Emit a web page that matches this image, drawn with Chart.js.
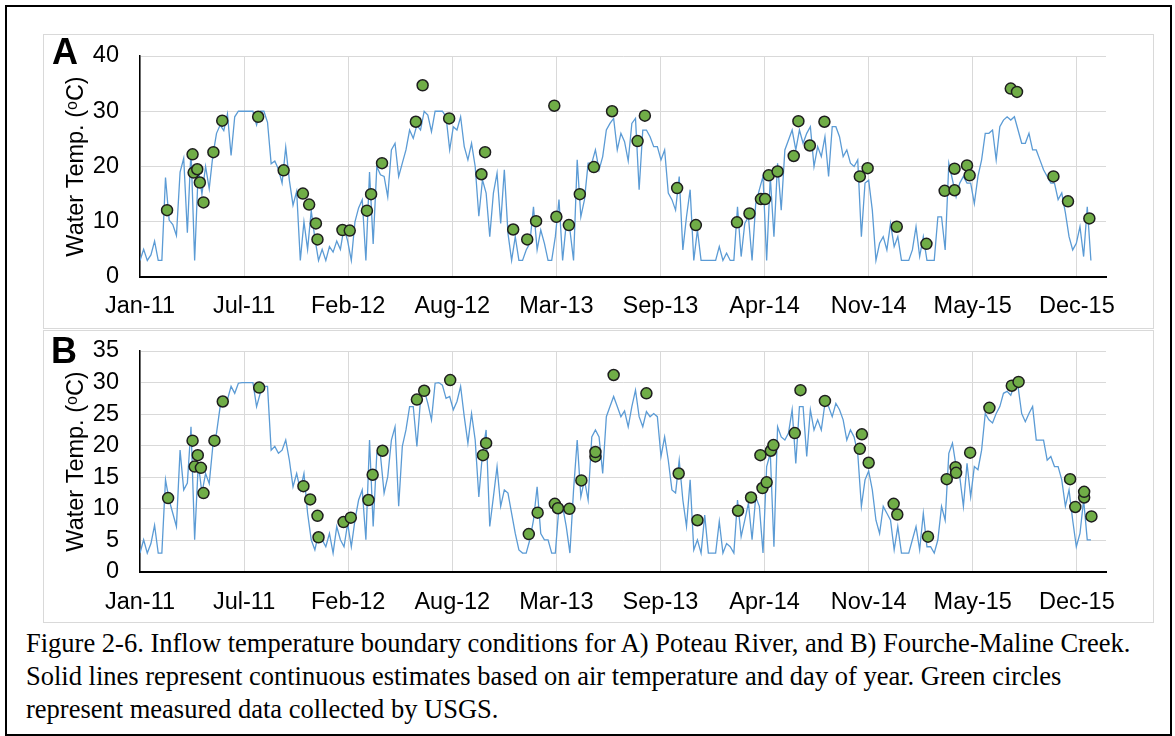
<!DOCTYPE html>
<html>
<head>
<meta charset="utf-8">
<script src="https://cdn.jsdelivr.net/npm/chart.js@4"></script>
<style>
    body { margin: 0; background: #fff; width: 1175px; height: 736px; position: relative; overflow: hidden; }
    #marco { position: absolute; left: 5px; top: 5px; width: 1163px; height: 727px; border: 2px solid #000; }
    .caja { position: absolute; left: 43px; width: 1109px; border: 1px solid #d9d9d9; background: #fff; }
    .caja canvas { position: absolute; left: 0; top: 0; }
    .letra { position: absolute; font: bold 36px 'Liberation Sans', Arial, sans-serif; line-height: 36px; color: #000; z-index: 2; }
    #pie { position: absolute; left: 26px; top: 627px; font: 26.5px 'Liberation Serif', 'Times New Roman', serif; line-height: 33px; color: #000; white-space: nowrap; }
</style>
</head>
<body>
<div id="marco"></div>
<div class="caja" style="top:34px;height:293px;"><canvas id="graficaA" width="1109" height="293"></canvas></div>
<div class="caja" style="top:330px;height:291px;"><canvas id="graficaB" width="1109" height="291"></canvas></div>
<div class="letra" style="left:52px;top:34px;">A</div>
<div class="letra" style="left:51px;top:333px;">B</div>
<div id="pie">Figure 2-6. Inflow temperature boundary conditions for A) Poteau River, and B) Fourche-Maline Creek.<br>Solid lines represent continuous estimates based on air temperature and day of year. Green circles<br>represent measured data collected by USGS.</div>

<script>
// Días desde el 1 de enero de 2011; la serie continua está muestreada cada semana
const pasoSemana = 7;
const etiquetasX = ['Jan-11', 'Jul-11', 'Feb-12', 'Aug-12', 'Mar-13', 'Sep-13', 'Apr-14', 'Nov-14', 'May-15', 'Dec-15'];

// A) Poteau River - estimación continua (ºC)
const continuaA = [
    3, 5, 3, 4, 6.5, 3, 3, 18, 10.3, 9.5,
    7.5, 19, 21.5, 8, 23, 3, 19.5, 15, 20, 16,
    22, 26, 27.5, 26.5, 29.5, 22, 29, 30, 30, 30,
    30, 30, 27.5, 30, 30, 28, 20.5, 21, 19.5, 17,
    23.5, 17.5, 13, 15.5, 3, 10, 5, 12, 7, 3,
    5, 3, 5.5, 4.5, 6.5, 5, 9, 6.5, 3, 10,
    12.5, 14, 3, 19, 6, 20, 18.5, 18.2, 14.5, 23,
    24.2, 18.2, 20.6, 23, 26.6, 25.1, 27.5, 26.6, 30, 29.3,
    26.3, 30, 30, 30, 29, 23, 27.2, 26.6, 29, 23.6,
    21.2, 24.2, 20, 11, 17.6, 15.2, 7.3, 15.2, 18.8, 9.7,
    19.4, 7.9, 3, 7.3, 3, 3, 4.9, 6.1, 12.7, 4.9,
    8.5, 6.1, 3, 3, 7.3, 14, 3, 9.7, 8.5, 3,
    21.2, 10.9, 14, 20.6, 20.6, 23, 19.4, 21.8, 26.6, 27.8,
    28.7, 23, 26, 24.5, 21, 27.8, 28.7, 15.8, 26.6, 26.6,
    25.4, 23.6, 23.6, 21.2, 23, 15.2, 14, 12.1, 18.2, 4.9,
    10.9, 15.8, 3, 8.5, 3, 3, 3, 3, 3, 5.5,
    3, 4.3, 3, 3, 12.7, 3.7, 9.7, 10.9, 3, 13.3,
    15.8, 18.2, 3, 18.2, 7.3, 20.6, 12.1, 23, 24.8, 26.6,
    23, 26.6, 24.2, 26, 27.2, 20, 23.6, 21.8, 25.4, 18.2,
    27.2, 27.2, 25.4, 21.8, 23, 20.6, 20, 21.2, 7.3, 17,
    17.5, 12.1, 3, 6.1, 7.3, 4.9, 9.7, 5.5, 7.3, 3,
    3, 3, 4.9, 9.1, 3.7, 7.3, 3, 3, 3, 10.9,
    10.9, 4.9, 20.6, 17.6, 14.5, 17, 18.2, 17, 17, 13.3,
    18.2, 21.2, 26, 26, 26.6, 21.2, 27.2, 28.4, 29, 28.4,
    29, 26.6, 24.2, 24.2, 26, 23, 23, 21.2, 19.4, 18.2,
    17, 17, 14, 15.2, 11.6, 7.3, 4.9, 6.1, 9.1, 3.7,
    12.7, 3
];

// A) Poteau River - medidas USGS
const diasMedidaA = [
    52, 101, 103, 110, 115, 122, 141, 158, 227, 276,
    313, 325, 338, 341, 389, 403, 436, 444, 465, 530,
    543, 594, 663, 656, 717, 744, 761, 796, 800, 824,
    845, 872, 907, 956, 970, 1032, 1068, 1147, 1171, 1193,
    1201, 1208, 1225, 1256, 1265, 1287, 1315, 1383, 1398, 1454,
    1511, 1546, 1565, 1565, 1589, 1594, 1673, 1685, 1755, 1783,
    1824
];
const medidasA = [
    12.1, 22.2, 18.9, 19.5, 17.1, 13.5, 22.6, 28.3, 29.0, 19.3,
    15.1, 13.1, 9.7, 6.8, 8.5, 8.4, 12.0, 15.0, 20.6, 28.1,
    34.7, 28.7, 22.6, 18.6, 8.6, 6.8, 10.1, 31.0, 10.9, 9.4,
    15.0, 19.9, 30.0, 24.6, 29.2, 16.1, 9.4, 9.9, 11.5, 14.1,
    14.1, 18.4, 19.1, 21.9, 28.2, 23.8, 28.1, 18.2, 19.7, 9.1,
    6.0, 15.6, 15.7, 19.6, 20.2, 18.4, 34.1, 33.5, 18.2, 13.7,
    10.6
];

// B) Fourche-Maline Creek - estimación continua (ºC)
const continuaB = [
    3, 5.1, 3, 4.5, 7.4, 3, 3, 14.6, 11.4, 9.3,
    7.2, 19.3, 13, 14.1, 23, 5.1, 17.2, 12.5, 15.6, 14,
    20, 22, 26.2, 27.3, 27.3, 29.4, 28.3, 29.9, 30, 30,
    30, 30, 26.2, 28.3, 29.4, 29.4, 19.3, 19.9, 18.8, 19.3,
    20.9, 17.7, 13.5, 15.6, 13, 15.6, 9.3, 5.1, 3.5, 6.1,
    5.1, 4, 6.1, 3, 7.2, 5.1, 4, 7.7, 4, 8.2,
    11.4, 13, 5.1, 20.9, 7.2, 18.8, 18.5, 12.5, 15.1, 20.9,
    23, 10.4, 19.9, 22.5, 26.2, 26.2, 19.9, 27.3, 28.8, 26.7,
    24.1, 29.9, 30, 29.6, 27.5, 27.8, 25.7, 27, 29.4, 24.6,
    20.4, 25.1, 20.9, 11.9, 18.8, 22.5, 7.2, 11.9, 16.7, 10.4,
    13, 12.5, 9.3, 6.1, 3.5, 3, 3, 5.1, 8.2, 13.5,
    6.1, 5.1, 5.1, 3, 3, 10.4, 10.4, 7.2, 3, 13,
    20.9, 11.9, 14.6, 11.4, 21.4, 22.5, 21.4, 15.6, 24.6, 26.2,
    27.8, 26.2, 24.6, 25.5, 23, 26.2, 28.8, 24.6, 23, 25.4,
    24.6, 25.1, 24.6, 18.3, 21.4, 17.7, 13, 12.5, 17.7, 11.4,
    7.2, 14.6, 3.5, 5.1, 3, 9, 3, 3, 3, 8,
    3, 4.5, 4, 3, 11.4, 5.6, 8.2, 10.9, 5.1, 11.9,
    10.4, 3, 16.7, 18.8, 4, 23, 21.4, 20.9, 22, 25.7,
    17.2, 26.2, 26.2, 18.3, 25.7, 22.5, 24.1, 22.5, 26.7, 26.2,
    24.6, 26.7, 25.7, 24.1, 20.9, 22.5, 21.4, 18.8, 10.4, 14.6,
    16, 13, 8.2, 6.1, 10.4, 9.3, 8.2, 3.5, 7.2, 3,
    3, 3, 5.1, 7.2, 3.5, 9.3, 4, 4, 3, 5.1,
    10.4, 8.2, 18.8, 20.4, 16.7, 15.1, 10.4, 17.2, 11.9, 16.7,
    16.2, 19.3, 25.1, 24.1, 23.6, 25.1, 26.2, 28.3, 28.6, 28,
    29.6, 29.4, 25.1, 23.8, 25.1, 26.2, 20.9, 20.9, 20.9, 17.7,
    18.3, 16.7, 16.7, 14.6, 10.4, 13, 8.2, 4, 6.1, 11.4,
    5.1, 5.1
];

// B) Fourche-Maline Creek - medidas USGS
const diasMedidaB = [
    54, 101, 111, 105, 117, 122, 143, 159, 229, 314,
    327, 341, 343, 391, 405, 439, 447, 466, 532, 546,
    596, 659, 665, 747, 764, 797, 803, 825, 848, 875,
    875, 910, 973, 1035, 1071, 1149, 1174, 1196, 1204, 1192,
    1212, 1217, 1258, 1269, 1316, 1387, 1383, 1400, 1448, 1455,
    1514, 1550, 1567, 1568, 1595, 1632, 1675, 1688, 1787, 1797,
    1814, 1814, 1828
];
const medidasB = [
    11.7, 20.8, 18.5, 16.7, 16.5, 12.5, 20.8, 27.0, 29.2, 13.6,
    11.5, 8.9, 5.5, 7.9, 8.6, 11.4, 15.4, 19.2, 27.3, 28.7,
    30.4, 18.5, 20.4, 6.0, 9.4, 10.8, 10.1, 10.0, 14.5, 18.3,
    19.0, 31.2, 28.3, 15.6, 8.2, 9.7, 11.8, 13.3, 14.2, 18.5,
    19.2, 20.1, 22.0, 28.8, 27.1, 21.8, 19.5, 17.3, 10.8, 9.1,
    5.6, 14.7, 16.6, 15.7, 18.9, 26.0, 29.5, 30.1, 14.7, 10.3,
    11.8, 12.7, 8.8
];

const fuente = { family: "'Liberation Sans', Arial, sans-serif", size: 23.5 };

function generarGrafica(id, continua, dias, medidas, maxY, pasoY, cfg) {
    const ctx = document.getElementById(id).getContext('2d');

    new Chart(ctx, {
        type: 'scatter',
        data: {
            datasets: [
                {
                    label: 'USGS',
                    data: dias.map((d, k) => ({ x: d, y: medidas[k] })),
                    pointRadius: 5.5,
                    pointBackgroundColor: '#70ad47',
                    pointBorderColor: '#1e1e1e',
                    pointBorderWidth: 1.5,
                },
                {
                    label: 'Estimación',
                    data: continua.map((v, i) => ({ x: i * pasoSemana, y: v })),
                    showLine: true,
                    borderColor: '#5b9bd5',
                    borderWidth: 1.3,
                    pointRadius: 0,
                    tension: 0,
                },
            ],
        },
        options: {
            responsive: false,
            animation: false,
            layout: { padding: { top: cfg.arriba, right: 47, left: 0, bottom: 0 } },
            plugins: {
                legend: { display: false },
                tooltip: { enabled: false },
            },
            scales: {
                x: {
                    type: 'linear',
                    min: 0,
                    max: 1856,
                    ticks: {
                        stepSize: 200,
                        includeBounds: false,
                        autoSkip: false,
                        maxRotation: 0,
                        padding: cfg.padX,
                        color: '#000',
                        font: fuente,
                        callback: v => etiquetasX[Math.round(v / 200)],
                    },
                    grid: { color: '#d9d9d9', drawTicks: false },
                    border: { color: '#000', width: 2 },
                    afterFit: s => { s.height = cfg.altoX; },
                },
                y: {
                    min: 0,
                    max: maxY,
                    ticks: { stepSize: pasoY, autoSkip: false, padding: 21, color: '#000', font: fuente },
                    grid: { color: '#d9d9d9', drawTicks: false },
                    border: { color: '#000', width: 1.5 },
                    title: {
                        display: true,
                        text: 'Water Temp. (ᵒC)',
                        color: '#000',
                        font: fuente,
                        padding: { top: 18, bottom: 0 },
                    },
                    // ancho fijo y sin el relleno extra que añade el padding de las etiquetas
                    afterFit: s => {
                        s.width = 96;
                        s.paddingTop = 0;
                        s.paddingBottom = 0;
                    },
                },
            },
        },
    });
}

document.addEventListener('DOMContentLoaded', () => {
    generarGrafica('graficaA', continuaA, diasMedidaA, medidasA, 40, 10, { arriba: 21, altoX: 51, padX: 15 });
    generarGrafica('graficaB', continuaB, diasMedidaB, medidasB, 35, 5, { arriba: 20, altoX: 50, padX: 16 });
});
</script>
</body>
</html>
